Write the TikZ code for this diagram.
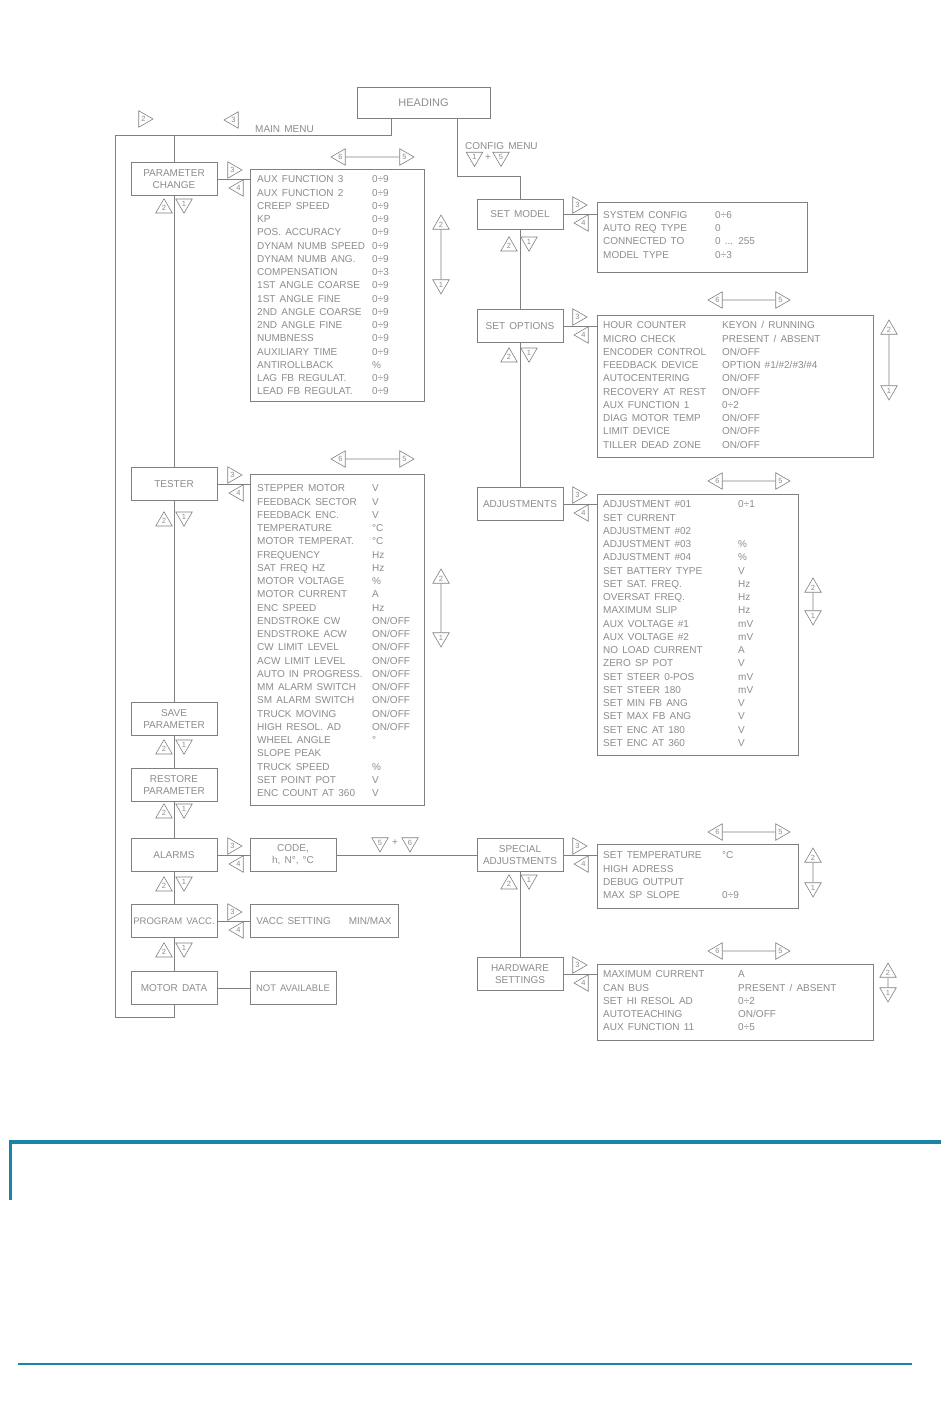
\documentclass[tikz,border=0pt]{standalone}
\usepackage{fontspec}
\setmainfont{Liberation Sans}[WordSpace=1.5]
\usepackage{xcolor}
\usetikzlibrary{shapes.geometric}
\definecolor{linegray}{gray}{0.50}
\definecolor{textgray}{gray}{0.55}
\definecolor{pageblue}{HTML}{1786A6}
\newcommand\menufont{\fontsize{10}{12}\selectfont}
\newcommand\listfont{\fontsize{10}{13.25}\selectfont}

\tikzset{
  wire/.style={draw=linegray, line width=0.8pt},
  menubox/.style={draw=linegray, line width=0.8pt, minimum width=86, minimum height=33, inner sep=1pt, align=center, text=textgray, font=\menufont},
  listbox/.style={draw=linegray, line width=0.8pt, anchor=north west, inner sep=0pt},
  listtext/.style={anchor=north west, inner sep=0pt, text=textgray, font=\listfont},
  lbl/.style={inner sep=0pt, text=textgray, font=\menufont},
  keytri/.style={regular polygon, regular polygon sides=3, minimum size=19, inner sep=0pt, draw=linegray, line width=0.6pt, text=textgray, font=\fontsize{7.5}{8}\selectfont},
  keyU/.style={keytri},
  keyD/.style={keytri, shape border rotate=180},
  keyR/.style={keytri, shape border rotate=-90},
  keyL/.style={keytri, shape border rotate=90},
}

\begin{document}
\begin{tikzpicture}[x=1pt, y=-1pt]
\useasboundingbox (0,0) rectangle (950,1420);

\node[menubox, minimum width=133, minimum height=31, font=\fontsize{11}{12}\selectfont] (heading) at (423.5,102.5) {HEADING};

% main menu column
\node[menubox] (parchg) at (174,179) {PARAMETER\\CHANGE};
\node[menubox] (tester) at (174,484) {TESTER};
\node[menubox] (savepar) at (174,719) {SAVE\\PARAMETER};
\node[menubox] (restpar) at (174,785) {RESTORE\\PARAMETER};
\node[menubox] (alarms) at (174,855) {ALARMS};
\node[menubox, font=\fontsize{9.5}{12}\selectfont] (progvacc) at (174,921) {PROGRAM VACC.};
\node[menubox] (motordata) at (174,988) {MOTOR DATA};

\node[menubox] (code) at (293,855) {CODE,\\h,\ N°,\ °C};
\node[menubox, minimum width=148] (vacc) at (324,921) {VACC SETTING\hspace{18pt}MIN/MAX};
\node[menubox, font=\fontsize{9.5}{12}\selectfont] (notavail) at (293,988) {NOT AVAILABLE};

% config menu column
\node[menubox, minimum height=30] (setmodel) at (520,214) {SET MODEL};
\node[menubox] (setopt) at (520,326) {SET OPTIONS};
\node[menubox] (adjust) at (520,504) {ADJUSTMENTS};
\node[menubox] (special) at (520,855) {SPECIAL\\ADJUSTMENTS};
\node[menubox] (hardware) at (520,974) {HARDWARE\\SETTINGS};

% lists
\node[listbox, minimum width=174, minimum height=232] (parlist) at (250,169) {};
\node[listtext] (parlist-txt) at ([shift={(7,4.3)}]parlist.north west) {\begin{tabular}{@{}p{115pt}@{}l@{}}
AUX FUNCTION 3 & 0÷9\\
AUX FUNCTION 2 & 0÷9\\
CREEP SPEED & 0÷9\\
KP & 0÷9\\
POS. ACCURACY & 0÷9\\
DYNAM NUMB SPEED & 0÷9\\
DYNAM NUMB ANG. & 0÷9\\
COMPENSATION & 0÷3\\
1ST ANGLE COARSE & 0÷9\\
1ST ANGLE FINE & 0÷9\\
2ND ANGLE COARSE & 0÷9\\
2ND ANGLE FINE & 0÷9\\
NUMBNESS & 0÷9\\
AUXILIARY TIME & 0÷9\\
ANTIROLLBACK & \%\\
LAG FB REGULAT. & 0÷9\\
LEAD FB REGULAT. & 0÷9
\end{tabular}};

\node[listbox, minimum width=174, minimum height=331] (testlist) at (250,474) {};
\node[listtext] (testlist-txt) at ([shift={(7,8.3)}]testlist.north west) {\begin{tabular}{@{}p{115pt}@{}l@{}}
STEPPER MOTOR & V\\
FEEDBACK SECTOR & V\\
FEEDBACK ENC. & V\\
TEMPERATURE & °C\\
MOTOR TEMPERAT. & °C\\
FREQUENCY & Hz\\
SAT FREQ HZ & Hz\\
MOTOR VOLTAGE & \%\\
MOTOR CURRENT & A\\
ENC SPEED & Hz\\
ENDSTROKE CW & ON/OFF\\
ENDSTROKE ACW & ON/OFF\\
CW LIMIT LEVEL & ON/OFF\\
ACW LIMIT LEVEL & ON/OFF\\
AUTO IN PROGRESS. & ON/OFF\\
MM ALARM SWITCH & ON/OFF\\
SM ALARM SWITCH & ON/OFF\\
TRUCK MOVING & ON/OFF\\
HIGH RESOL. AD & ON/OFF\\
WHEEL ANGLE & °\\
SLOPE PEAK & \\
TRUCK SPEED & \%\\
SET POINT POT & V\\
ENC COUNT AT 360 & V
\end{tabular}};

\node[listbox, minimum width=210, minimum height=70] (modlist) at (597,202) {};
\node[listtext] (modlist-txt) at ([shift={(6,7)}]modlist.north west) {\begin{tabular}{@{}p{112pt}@{}l@{}}
SYSTEM CONFIG & 0÷6\\
AUTO REQ TYPE & 0\\
CONNECTED TO & 0 ... 255\\
MODEL TYPE & 0÷3
\end{tabular}};

\node[listbox, minimum width=276, minimum height=142] (optlist) at (597,315) {};
\node[listtext] (optlist-txt) at ([shift={(6,4.3)}]optlist.north west) {\begin{tabular}{@{}p{119pt}@{}l@{}}
HOUR COUNTER & KEYON / RUNNING\\
MICRO CHECK & PRESENT / ABSENT\\
ENCODER CONTROL & ON/OFF\\
FEEDBACK DEVICE & OPTION \#1/\#2/\#3/\#4\\
AUTOCENTERING & ON/OFF\\
RECOVERY AT REST & ON/OFF\\
AUX FUNCTION 1 & 0÷2\\
DIAG MOTOR TEMP & ON/OFF\\
LIMIT DEVICE & ON/OFF\\
TILLER DEAD ZONE & ON/OFF
\end{tabular}};

\node[listbox, minimum width=201, minimum height=261] (adjlist) at (597,494) {};
\node[listtext] (adjlist-txt) at ([shift={(6,4.3)}]adjlist.north west) {\begin{tabular}{@{}p{135pt}@{}l@{}}
ADJUSTMENT \#01 & 0÷1\\
SET CURRENT & \\
ADJUSTMENT \#02 & \\
ADJUSTMENT \#03 & \%\\
ADJUSTMENT \#04 & \%\\
SET BATTERY TYPE & V\\
SET SAT. FREQ. & Hz\\
OVERSAT FREQ. & Hz\\
MAXIMUM SLIP & Hz\\
AUX VOLTAGE \#1 & mV\\
AUX VOLTAGE \#2 & mV\\
NO LOAD CURRENT & A\\
ZERO SP POT & V\\
SET STEER 0-POS & mV\\
SET STEER 180 & mV\\
SET MIN FB ANG & V\\
SET MAX FB ANG & V\\
SET ENC AT 180 & V\\
SET ENC AT 360 & V
\end{tabular}};

\node[listbox, minimum width=201, minimum height=64] (speclist) at (597,844) {};
\node[listtext] (speclist-txt) at ([shift={(6,5.3)}]speclist.north west) {\begin{tabular}{@{}p{119pt}@{}l@{}}
SET TEMPERATURE & °C\\
HIGH ADRESS & \\
DEBUG OUTPUT & \\
MAX SP SLOPE & 0÷9
\end{tabular}};

\node[listbox, minimum width=276, minimum height=76] (hwlist) at (597,964) {};
\node[listtext] (hwlist-txt) at ([shift={(6,4.3)}]hwlist.north west) {\begin{tabular}{@{}p{135pt}@{}l@{}}
MAXIMUM CURRENT & A\\
CAN BUS & PRESENT / ABSENT\\
SET HI RESOL AD & 0÷2\\
AUTOTEACHING & ON/OFF\\
AUX FUNCTION 11 & 0÷5
\end{tabular}};

% menu lines
\coordinate (mm) at (391,135);
\coordinate (mmleft) at (115,135);
\coordinate (loopend) at (115,1017);
\coordinate (cfg) at (457,176);
\draw[wire] (heading.south -| mm) -- (mm) -- (mmleft) -- (loopend) -- (loopend -| motordata) -- (motordata.south);
\draw[wire] (mm -| parchg) -- (parchg.north);
\draw[wire] (parchg) -- (tester) -- (savepar) -- (restpar) -- (alarms) -- (progvacc) -- (motordata);
\draw[wire] (heading.south -| cfg) -- (cfg) -- (cfg -| setmodel) -- (setmodel.north);
\draw[wire] (setmodel) -- (setopt) -- (adjust);
\draw[wire] (special) -- (hardware);

\draw[wire] (parchg.east) -- (parchg.east -| parlist.west);
\draw[wire] (tester.east) -- (tester.east -| testlist.west);
\draw[wire] (setmodel.east) -- (setmodel.east -| modlist.west);
\draw[wire] (setopt.east) -- (setopt.east -| optlist.west);
\draw[wire] (adjust.east) -- (adjust.east -| adjlist.west);
\draw[wire] (special.east) -- (special.east -| speclist.west);
\draw[wire] (hardware.east) -- (hardware.east -| hwlist.west);
\draw[wire] (alarms) -- (code);
\draw[wire] (code) -- (special);
\draw[wire] (progvacc) -- (vacc);
\draw[wire] (motordata) -- (notavail);

\node[lbl, anchor=west] (mainmenu) at (255,129) {MAIN MENU};
\node[lbl, anchor=west] (cfgmenu) at (465,146) {CONFIG MENU};
\node[keyR] (mm-2) at (143.5,119) {2};
\node[keyL] (mm-3) at (233.5,120) {3};
\node[keyD] (cfg-1) at (474.5,157) {1};
\node[lbl] (cfgplus) at (488,158) {+};
\node[keyD] (cfg-5) at (501,157) {5};
\node[keyD] (code-5) at (380,842.5) {5};
\node[lbl] (codeplus) at (395,843) {+};
\node[keyD] (code-6) at (410,842.5) {6};

% keys 3 and 4
\foreach \m/\l/\y in {parchg/228/179, tester/228/484, alarms/228/855, progvacc/228/921, setmodel/573/214, setopt/573/326, adjust/573/504, special/573/855, hardware/573/974}{
  \node[keyR] (\m-in) at (\l+4.5,\y-9) {3};
  \node[keyL] (\m-out) at (\l+10.5,\y+9) {4};
}

% keys 2 and 1 under the menu boxes
\foreach \m/\x/\y in {parchg/175/206, tester/175/519, savepar/175/747, restpar/175/811, alarms/175/884, progvacc/175/950, setmodel/520/244, setopt/520/355, special/520/882}{
  \node[keyU] (\m-up) at (\x-11,\y+2.25) {2};
  \node[keyD] (\m-dn) at (\x+9,\y-2.25) {1};
}

% keys 6 and 5 over the lists
\foreach \m/\a/\b/\y in {parlist/345/400/157, testlist/345/400/459, optlist/722/776/300, adjlist/722/776/481, speclist/722/776/832, hwlist/722/776/951}{
  \node[keyL] (\m-6) at (\a-4.5,\y) {6};
  \node[keyR] (\m-5) at (\b+4.5,\y) {5};
  \draw[wire] (\m-6) -- (\m-5);
}

% keys 2 and 1 beside the lists
\foreach \m/\x/\a/\b in {parlist/441/229/280, testlist/441/583/633, optlist/889/334/386, adjlist/813/592/611, speclist/813/862/883, hwlist/888/977/988}{
  \node[keyU] (\m-2) at (\x,\a-4.5) {2};
  \node[keyD] (\m-1) at (\x,\b+4.5) {1};
  \draw[wire] (\m-2) -- (\m-1);
}

% page rules
\draw[pageblue, line width=4pt] (9,1142) -- (941,1142);
\draw[pageblue, line width=3pt] (10,1140) -- (10,1200);
\draw[pageblue, line width=2pt] (18,1364) -- (912,1364);
\end{tikzpicture}
\end{document}
